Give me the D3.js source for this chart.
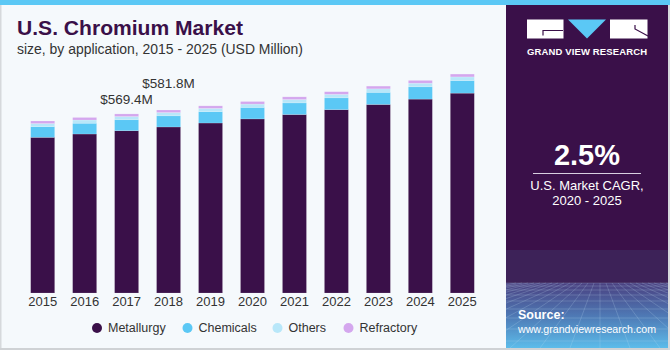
<!DOCTYPE html>
<html>
<head>
<meta charset="utf-8">
<script src="https://cdn.jsdelivr.net/npm/d3@7"></script>
<style>
  html, body { margin: 0; padding: 0; background: #fff; }
  svg { display: block; font-family: "Liberation Sans", Arial, sans-serif; }
</style>
</head>
<body>
<svg id="chart" width="670" height="350"></svg>
<script>
var years = ['2015','2016','2017','2018','2019','2020','2021','2022','2023','2024','2025'];
var metallurgy = [495.0, 505.5, 516.0, 527.9, 540.5, 553.5, 567.5, 583.0, 599.5, 616.5, 635.5];
var chemicals = [33.8, 34.3, 34.9, 35.5, 36.0, 36.5, 37.0, 37.6, 38.5, 39.2, 40.0];
var others = [10.1, 10.2, 10.3, 10.4, 10.5, 10.6, 10.8, 11.0, 11.2, 11.4, 11.6];
var refractory = [8.0, 8.1, 8.2, 8.0, 8.0, 8.2, 8.4, 8.4, 8.6, 8.8, 9.0];
var series = ['Metallurgy','Chemicals','Others','Refractory'];
var colors = ['#3a1049', '#5bc8f5', '#b8e7f9', '#d4a7ee'];
var callouts = [{year:'2017', text:'$569.4M', dy:-10}, {year:'2018', text:'$581.8M', dy:-22}];

var svg = d3.select('#chart');
var W = +svg.attr('width'), H = +svg.attr('height');

// frame + background
svg.append('rect').attr('x',0).attr('y',0).attr('width',W).attr('height',H).attr('fill','#f5f9fc');
svg.append('rect').attr('x',0).attr('y',0).attr('width',W).attr('height',5).attr('fill','#5bc8f5');
svg.append('rect').attr('x',0).attr('y',5).attr('width',1.5).attr('height',H-5).attr('fill','#d6d9dc');
svg.append('rect').attr('x',0).attr('y',H-2).attr('width',W).attr('height',2).attr('fill','#cfd2d5');

// title
svg.append('text').attr('x',17).attr('y',35).text('U.S. Chromium Market')
	.attr('font-size',20.5).attr('font-weight','bold').attr('fill','#3a1049')
	.attr('textLength',226).attr('lengthAdjust','spacingAndGlyphs');
svg.append('text').attr('x',17).attr('y',54).text('size, by application, 2015 - 2025 (USD Million)')
	.attr('font-size',14).attr('fill','#333')
	.attr('textLength',286).attr('lengthAdjust','spacingAndGlyphs');

// data rows
var rows = years.map(function(y,i) {
	return {year:y, Metallurgy:metallurgy[i], Chemicals:chemicals[i], Others:others[i], Refractory:refractory[i]};
});
var stack = d3.stack().keys(series)(rows);

var x = d3.scaleBand().domain(years).range([21.7, 483.3]).paddingInner(0.428).paddingOuter(0.214);
var y = d3.scaleLinear().domain([0, 700]).range([293, 293 - 700*0.3145]);
var color = d3.scaleOrdinal().domain(series).range(colors);

var g = svg.append('g');
g.selectAll('g.layer').data(stack).enter().append('g').attr('class','layer')
	.attr('fill', d => color(d.key))
	.selectAll('rect').data(d => d).enter().append('rect')
	.attr('x', d => x(d.data.year)).attr('width', x.bandwidth())
	.attr('y', d => y(d[1])).attr('height', d => y(d[0]) - y(d[1]))
	.attr('stroke', 'rgba(255,255,255,0.25)').attr('stroke-width', 0.6);

// year labels
var xAxis = d3.axisBottom(x).tickSize(0).tickPadding(0);
var ax = svg.append('g').attr('transform','translate(0,297)').call(xAxis);
ax.select('.domain').remove();
ax.selectAll('text').attr('font-size',13).attr('fill','#333').attr('dy','0.72em')
	.attr('font-family','"Liberation Sans", Arial, sans-serif');

// callouts
var totals = {};
rows.forEach(r => totals[r.year] = r.Metallurgy + r.Chemicals + r.Others + r.Refractory);
svg.selectAll('text.callout').data(callouts).enter().append('text').attr('class','callout')
	.attr('x', d => x(d.year) + x.bandwidth()/2).attr('y', d => y(totals[d.year]) + d.dy)
	.attr('text-anchor','middle').attr('font-size',13.5).attr('fill','#333').text(d => d.text);

// legend
var legendX = [97, 187.5, 277.5, 348.5];
var lg = svg.selectAll('g.leg').data(series).enter().append('g').attr('class','leg')
	.attr('transform', (d,i) => 'translate(' + legendX[i] + ',328)');
lg.append('circle').attr('r',5).attr('fill', d => color(d));
lg.append('text').attr('x',11).attr('dy','0.35em').attr('font-size',12.5).attr('fill','#333').text(d => d);

// right panel
var px = 506, pw = W - px - 2;
var defs = svg.append('defs');
var grad = defs.append('linearGradient').attr('id','pg').attr('x1',0).attr('y1',0).attr('x2',0).attr('y2',1);
grad.append('stop').attr('offset','0%').attr('stop-color','#4a4080');
grad.append('stop').attr('offset','50%').attr('stop-color','#4e78b4');
grad.append('stop').attr('offset','100%').attr('stop-color','#5cbcea');
defs.append('clipPath').attr('id','pc').append('rect')
	.attr('x',px).attr('y',5).attr('width',pw).attr('height',H-7);

svg.append('rect').attr('x',px).attr('y',5).attr('width',pw).attr('height',H-7).attr('fill','#3a1049');
svg.append('rect').attr('x',px).attr('y',250).attr('width',pw).attr('height',33).attr('fill','#3d2258');
svg.append('rect').attr('x',px).attr('y',283).attr('width',pw).attr('height',H-285).attr('fill','url(#pg)');

// perspective grid in the lower panel
var grid = svg.append('g').attr('clip-path','url(#pc)')
	.attr('stroke','#c4e2f7').attr('stroke-opacity',0.3).attr('stroke-width',0.7).attr('fill','none');
var horizonY = 283, vx = 600;
d3.range(-14, 15).forEach(function(k) {
	grid.append('line').attr('x1', vx + k*6).attr('y1', horizonY).attr('x2', vx + k*30).attr('y2', H-2);
});
[0, 3, 7, 12, 18, 26, 35, 46, 58].forEach(function(d) {
	grid.append('line').attr('x1', px).attr('y1', horizonY + d).attr('x2', W-2).attr('y2', horizonY + d);
});
svg.append('rect').attr('x',W-2).attr('y',5).attr('width',2).attr('height',H-5).attr('fill','#d6d9dc');

// logo
var logo = svg.append('g');
logo.append('rect').attr('x',527).attr('y',19.5).attr('width',36.5).attr('height',19).attr('fill','#fff');
logo.append('path').attr('d','M543,35.5 V30.5 H563').attr('stroke','#3a1049').attr('stroke-width',1.2).attr('fill','none');
logo.append('path').attr('d','M568,19.5 L606,19.5 L587,38.5 Z').attr('fill','#5bc8f5');
logo.append('rect').attr('x',610).attr('y',19.5).attr('width',37.5).attr('height',19).attr('fill','#fff');
logo.append('path').attr('d','M635,25 V29 L648,36').attr('stroke','#3a1049').attr('stroke-width',1.2).attr('fill','none');
svg.append('text').attr('x',527).attr('y',54.5).text('GRAND VIEW RESEARCH')
	.attr('font-size',9.5).attr('font-weight','bold').attr('fill','#fff')
	.attr('textLength',120).attr('lengthAdjust','spacing');

// CAGR
svg.append('text').attr('x',587).attr('y',165).attr('text-anchor','middle').text('2.5%')
	.attr('font-size',29).attr('font-weight','bold').attr('fill','#fff');
svg.append('line').attr('x1',533).attr('x2',641).attr('y1',173.5).attr('y2',173.5).attr('stroke','#d8cfe0').attr('stroke-width',1.2);
svg.append('text').attr('x',587).attr('y',190).attr('text-anchor','middle').text('U.S. Market CAGR,')
	.attr('font-size',13).attr('fill','#fff');
svg.append('text').attr('x',587).attr('y',205).attr('text-anchor','middle').text('2020 - 2025')
	.attr('font-size',13).attr('fill','#fff');

// source
svg.append('text').attr('x',518).attr('y',319).text('Source:').attr('font-size',12.5).attr('font-weight','bold').attr('fill','#fff');
svg.append('text').attr('x',518).attr('y',333).text('www.grandviewresearch.com').attr('font-size',11.8).attr('fill','#fff')
	.attr('textLength',138).attr('lengthAdjust','spacingAndGlyphs');
</script>
</body>
</html>
